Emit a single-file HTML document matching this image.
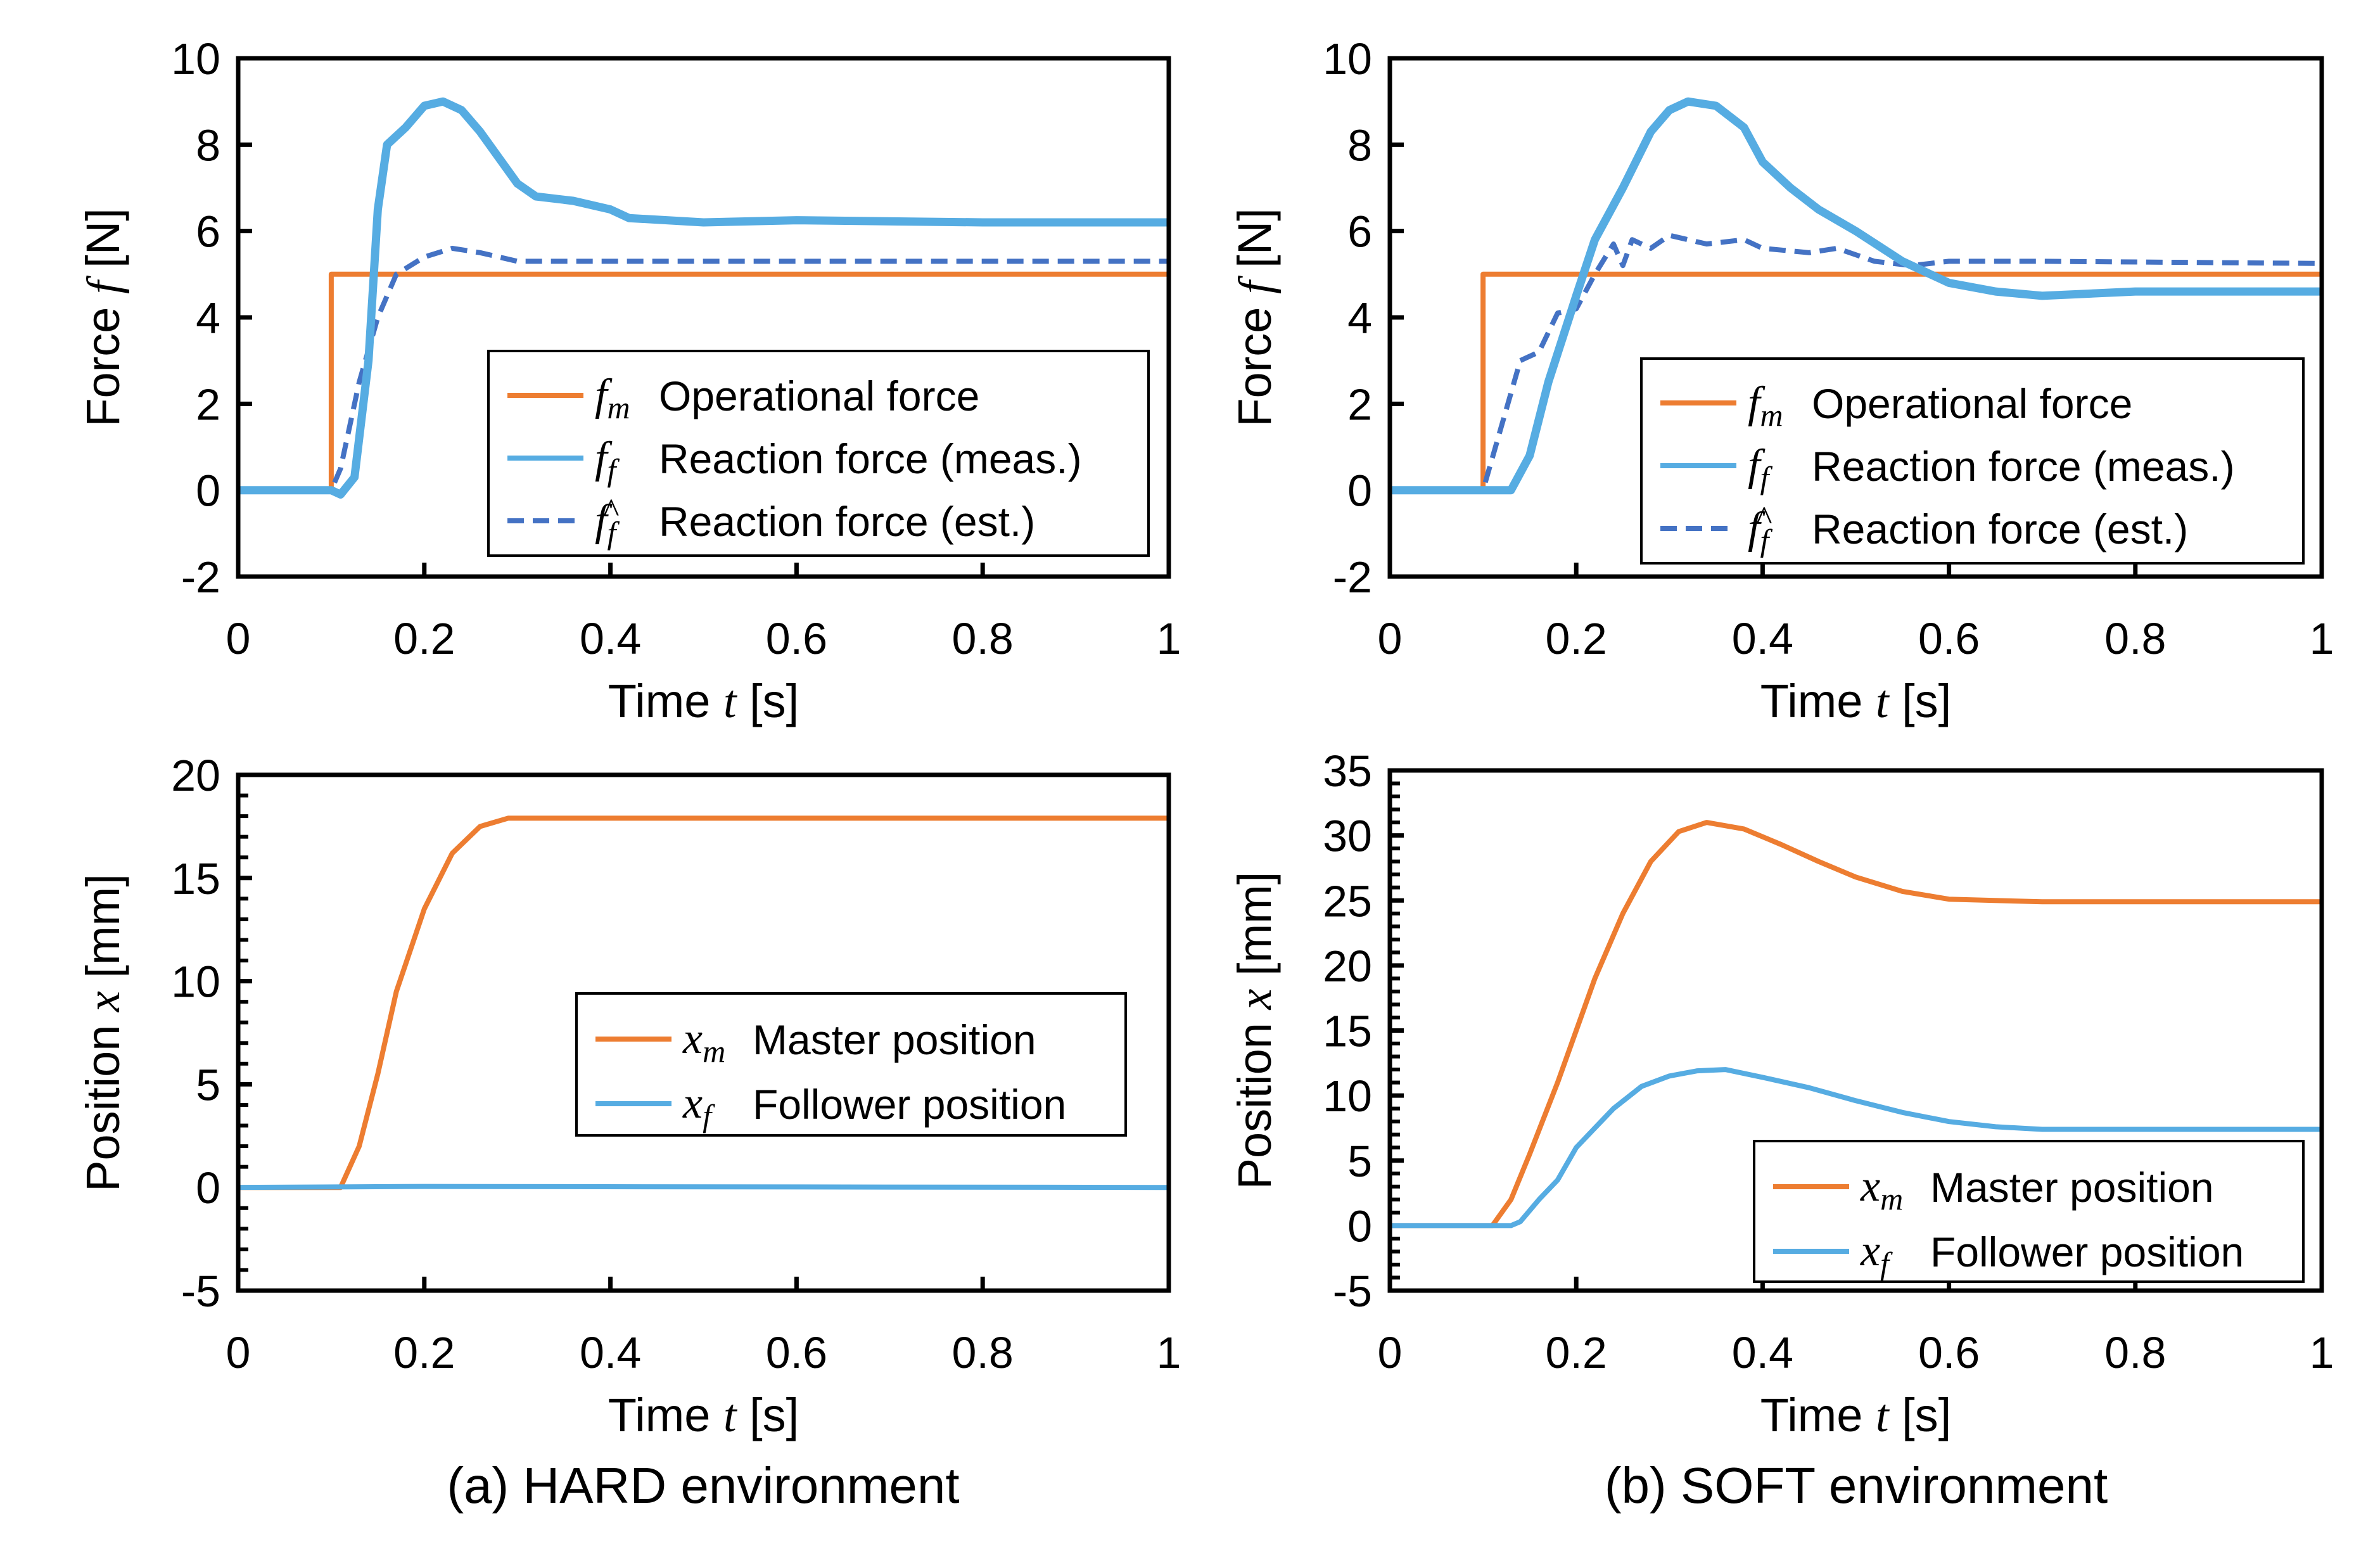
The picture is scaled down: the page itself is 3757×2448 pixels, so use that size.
<!DOCTYPE html>
<html><head><meta charset="utf-8"><style>
html,body{margin:0;padding:0;background:#fff}
svg{display:block}
text{font-family:"Liberation Sans",sans-serif;fill:#000}
.m{font-family:"Liberation Serif",serif;font-style:italic}
</style></head><body>
<svg id="fig" width="3757" height="2448" viewBox="0 0 3757 2448"></svg>
<script>
// ---- data ----
const hardTime=[0,0.1,0.11,0.125,0.14,0.15,0.16,0.18,0.2,0.22,0.24,0.26,0.28,0.3,0.32,0.36,0.4,0.42,0.5,0.6,0.8,1];
const hardMeas=[0,0,-0.1,0.3,3,6.5,8,8.4,8.9,9.0,8.8,8.3,7.7,7.1,6.8,6.7,6.5,6.3,6.2,6.25,6.2,6.2];
const hardEstT=[0,0.1,0.11,0.13,0.15,0.17,0.2,0.23,0.26,0.28,0.3,1];
const hardEst=[0,0,0.5,2.5,4.0,5.0,5.4,5.6,5.5,5.4,5.3,5.3];
const opT=[0,0.1,0.1,1];
const opF=[0,0,5,5];
const softTime=[0,0.13,0.15,0.17,0.2,0.22,0.25,0.28,0.3,0.32,0.35,0.38,0.4,0.43,0.46,0.5,0.55,0.6,0.65,0.7,0.8,1];
const softMeas=[0,0,0.8,2.5,4.5,5.8,7.0,8.3,8.8,9.0,8.9,8.4,7.6,7.0,6.5,6.0,5.3,4.8,4.6,4.5,4.6,4.6];
const softEstT=[0,0.1,0.12,0.14,0.16,0.18,0.2,0.22,0.24,0.25,0.26,0.28,0.3,0.34,0.38,0.4,0.45,0.48,0.52,0.56,0.6,0.7,1];
const softEst=[0,0,1.5,3.0,3.2,4.1,4.2,5.0,5.7,5.2,5.8,5.6,5.9,5.7,5.8,5.6,5.5,5.6,5.3,5.2,5.3,5.3,5.25];
const hxT=[0,0.11,0.13,0.15,0.17,0.2,0.23,0.26,0.29,1];
const hxM=[0,0,2,5.5,9.5,13.5,16.2,17.5,17.9,17.9];
const hxFT=[0,0.2,1];
const hxF=[0,0.05,0];
const sxT=[0,0.11,0.13,0.15,0.18,0.2,0.22,0.25,0.28,0.31,0.34,0.38,0.42,0.46,0.5,0.55,0.6,0.7,1];
const sxM=[0,0,2,5.5,11,15,19,24,28,30.3,31,30.5,29.3,28,26.8,25.7,25.1,24.9,24.9];
const sfT=[0,0.13,0.14,0.16,0.18,0.2,0.22,0.24,0.27,0.3,0.33,0.36,0.4,0.45,0.5,0.55,0.6,0.65,0.7,1];
const sfF=[0,0,0.3,2,3.5,6,7.5,9,10.7,11.5,11.9,12,11.4,10.6,9.6,8.7,8.0,7.6,7.4,7.4];
const xTicks=[0,0.2,0.4,0.6,0.8,1];
const xTickLabels=["0","0.2","0.4","0.6","0.8","1"];
const fTicks=[-2,0,2,4,6,8,10];
const hxTicks=[-5,0,5,10,15,20];
const sxTicks=[-5,0,5,10,15,20,25,30,35];

const NS="http://www.w3.org/2000/svg";
const svg=document.getElementById('fig');
function el(tag,attrs,parent,txt){const e=document.createElementNS(NS,tag);for(const k in attrs)e.setAttribute(k,attrs[k]);if(txt!==undefined)e.textContent=txt;(parent||svg).appendChild(e);return e;}

function panel(p){
  const g=el('g',{});
  
  
  const X=v=>p.L+(v-0)/(1-0)*(p.R-p.L);
  const Y=v=>p.B-(v-p.ymin)/(p.ymax-p.ymin)*(p.B-p.T);
  if(p.minor){for(let v=p.ymin;v<=p.ymax;v+=p.minor){const t=el('line',{x1:p.L,x2:p.L+16,y1:Y(v),y2:Y(v),stroke:'#000','stroke-width':6},g);}}
  p.yt.forEach(v=>{
    const t=el('line',{x1:p.L,x2:p.L+22,y1:Y(v),y2:Y(v),stroke:'#000','stroke-width':7},g);
    
    const l=el('text',{x:p.L-28,y:Y(v)+25,'font-size':70,'text-anchor':'end'},g,String(v));
    
  });
  xTicks.forEach((v,i)=>{
    const t=el('line',{x1:X(v),x2:X(v),y1:p.B,y2:p.B-22,stroke:'#000','stroke-width':7},g);
    
    const l=el('text',{x:X(v),y:p.B+122,'font-size':70,'text-anchor':'middle'},g,xTickLabels[i]);
    
  });
  const xt=el('text',{x:(p.L+p.R)/2,y:p.B+222,'font-size':74,'text-anchor':'middle'},g);
  
  el('tspan',{},xt,'Time ');el('tspan',{class:'m'},xt,'t');el('tspan',{},xt,' [s]');
  const yc=(p.T+p.B)/2;
  const yt=el('text',{x:0,y:0,'font-size':74,'text-anchor':'middle',transform:`translate(${p.L-188},${yc}) rotate(-90)`},g);
  
  el('tspan',{},yt,p.ylab[0]);el('tspan',{class:'m'},yt,p.ylab[1]);el('tspan',{},yt,p.ylab[2]);
  p.series.forEach(s=>{
    const d=s.t.map((t,i)=>(i?'L':'M')+X(t).toFixed(1)+','+Y(s.v[i]).toFixed(1)).join(' ');
    const a={d:d,fill:'none',stroke:s.c,'stroke-width':s.w||8,'stroke-linejoin':'round'};
    if(s.dash)a['stroke-dasharray']=s.dash;
    const pa=el('path',a,g);
    
  });
  const fr=el('rect',{x:p.L,y:p.T,width:p.R-p.L,height:p.B-p.T,fill:'none',stroke:'#000','stroke-width':7},g);
  
  const lg=el('g',{},g);
  
  el('rect',{x:p.lg.x,y:p.lg.y,width:p.lg.w,height:p.lg.h,fill:'#fff',stroke:'#000','stroke-width':4},lg);
  p.lg.items.forEach((it,i)=>{
    const ye=p.lg.y+p.lg.y0+i*p.lg.dy;
    const e=el('g',{},lg);
    
    const la={x1:p.lg.x+30,x2:p.lg.x+150,y1:ye,y2:ye,stroke:it.c,'stroke-width':8};
    if(it.dash)la['stroke-dasharray']=it.dash;
    el('line',la,e);
    const sx=p.lg.x+168;
    const sym=el('text',{x:sx,y:ye+22,'font-size':70,class:'m'},e,it.s);
    el('tspan',{'font-size':50,dy:14},sym,it.sub);
    if(it.hat)el('text',{x:sx+12,y:ye+2,'font-size':54,class:'m'},e,'^');
    el('text',{x:p.lg.x+p.lg.tx,y:ye+24,'font-size':66},e,it.t);
  });
  return g;
}
const OR='#ED7D31',LB='#56ACE2',DB='#4472C4';
panel({name:'hard-force-chart',L:376,R:1845,T:92,B:910,ymin:-2,ymax:10,yt:fTicks,ylab:['Force ','f',' [N]'],
  series:[{t:opT,v:opF,c:OR,n:'operational-force-line'},{t:hardEstT,v:hardEst,c:DB,dash:'26,14',n:'est-reaction-force-line'},{t:hardTime,v:hardMeas,c:LB,w:13,n:'meas-reaction-force-line'}],
  lg:{x:771,y:554,w:1042,h:323,y0:70,dy:99,tx:269,items:[{c:OR,s:'f',sub:'m',t:'Operational force'},{c:LB,s:'f',sub:'f',t:'Reaction force (meas.)'},{c:DB,s:'f',sub:'f',hat:1,dash:'26,14',t:'Reaction force (est.)'}]}});
panel({name:'soft-force-chart',L:2194,R:3665,T:92,B:910,ymin:-2,ymax:10,yt:fTicks,ylab:['Force ','f',' [N]'],
  series:[{t:opT,v:opF,c:OR,n:'operational-force-line'},{t:softEstT,v:softEst,c:DB,dash:'26,14',n:'est-reaction-force-line'},{t:softTime,v:softMeas,c:LB,w:13,n:'meas-reaction-force-line'}],
  lg:{x:2591,y:566,w:1045,h:323,y0:70,dy:99,tx:269,items:[{c:OR,s:'f',sub:'m',t:'Operational force'},{c:LB,s:'f',sub:'f',t:'Reaction force (meas.)'},{c:DB,s:'f',sub:'f',hat:1,dash:'26,14',t:'Reaction force (est.)'}]}});
panel({name:'hard-position-chart',L:376,R:1845,T:1223,B:2037,ymin:-5,ymax:20,minor:1,yt:hxTicks,ylab:['Position ','x',' [mm]'],
  series:[{t:hxT,v:hxM,c:OR,n:'master-position-line'},{t:hxFT,v:hxF,c:LB,n:'follower-position-line'}],
  lg:{x:910,y:1568,w:867,h:224,y0:72,dy:102,tx:278,items:[{c:OR,s:'x',sub:'m',t:'Master position'},{c:LB,s:'x',sub:'f',t:'Follower position'}]}});
panel({name:'soft-position-chart',L:2194,R:3665,T:1216,B:2037,ymin:-5,ymax:35,minor:1,yt:sxTicks,ylab:['Position ','x',' [mm]'],
  series:[{t:sxT,v:sxM,c:OR,n:'master-position-line'},{t:sfT,v:sfF,c:LB,n:'follower-position-line'}],
  lg:{x:2769,y:1801,w:867,h:222,y0:72,dy:102,tx:278,items:[{c:OR,s:'x',sub:'m',t:'Master position'},{c:LB,s:'x',sub:'f',t:'Follower position'}]}});
const c1=el('text',{x:1110,y:2372,'font-size':80,'text-anchor':'middle'},svg,'(a) HARD environment');

const c2=el('text',{x:2930,y:2372,'font-size':80,'text-anchor':'middle'},svg,'(b) SOFT environment');

</script>
</body></html>
